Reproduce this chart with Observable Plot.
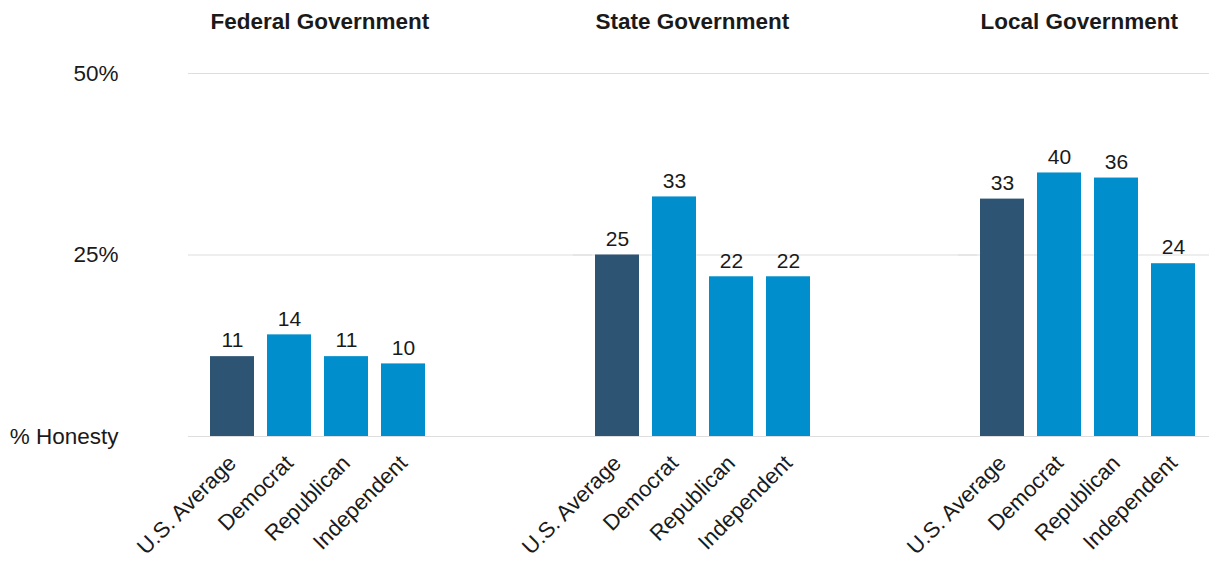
<!DOCTYPE html>
<html><head><meta charset="utf-8">
<script src="https://cdn.jsdelivr.net/npm/d3@7"></script>
<script src="https://cdn.jsdelivr.net/npm/@observablehq/plot@0.6"></script>
<style>body{margin:0;background:#fff;} #chart{width:1209px;height:561px;}</style>
</head><body><div id="chart"></div><script>
const levels = ["Federal Government", "State Government", "Local Government"];
const groups = ["U.S. Average", "Democrat", "Republican", "Independent"];
const federalBars = [11, 14, 11, 10];
const federalLabels = [11, 14, 11, 10];
const stateBars = [25, 33, 22, 22];
const stateLabels = [25, 33, 22, 22];
const localBars = [32.7, 36.3, 35.6, 23.8];
const localLabels = [33, 40, 36, 24];
const yTicks = [0, 25, 50];
const yTickLabels = ["% Honesty", "25%", "50%"];
const colors = ["#2e5473", "#008fcc", "#008fcc", "#008fcc"];

const bars = [federalBars, stateBars, localBars];
const labels = [federalLabels, stateLabels, localLabels];
const data = [];
levels.forEach((lv, i) => groups.forEach((g, j) => data.push({level: lv, group: g, value: bars[i][j], label: labels[i][j]})));

const chart = Plot.plot({
  width: 1209, height: 561,
  marginTop: 73, marginBottom: 125, marginLeft: 202, marginRight: 7,
  style: {fontFamily: "'Liberation Sans', Arial, sans-serif", fontSize: "20px", color: "#1a1a1a", background: "#fff"},
  fx: {domain: levels, paddingInner: 0.4026, paddingOuter: 0, label: null, axis: null},
  x: {domain: groups, paddingInner: 0.235, paddingOuter: 0.1175, label: null},
  y: {domain: [0, 50], label: null},
  color: {domain: groups, range: colors},
  marks: [
    Plot.ruleY(yTicks, {y: d => d, stroke: "#dedede", strokeWidth: 1.2, insetLeft: -14, insetRight: -160}),
    Plot.barY(data, {fx: "level", x: "group", y: "value", fill: "group"}),
    Plot.text(data, {fx: "level", x: "group", y: "value", text: "label", dy: -16, fontSize: 21, fill: "#1a1a1a"}),
    Plot.text(levels, {fx: d => d, frameAnchor: "top-left", text: d => d, dx: 8, dy: -60, textAnchor: "start", fontWeight: "bold", fontSize: 22.5, fill: "#1a1a1a"}),
    Plot.axisY({ticks: yTicks, tickFormat: d => yTickLabels[yTicks.indexOf(d)], tickSize: 0, tickPadding: 84, fontSize: 22.5}),
    Plot.axisX({tickRotate: -45, tickSize: 0, tickPadding: 23, fontSize: 22, label: null})
  ]
});
document.getElementById("chart").appendChild(chart);
</script></body></html>
